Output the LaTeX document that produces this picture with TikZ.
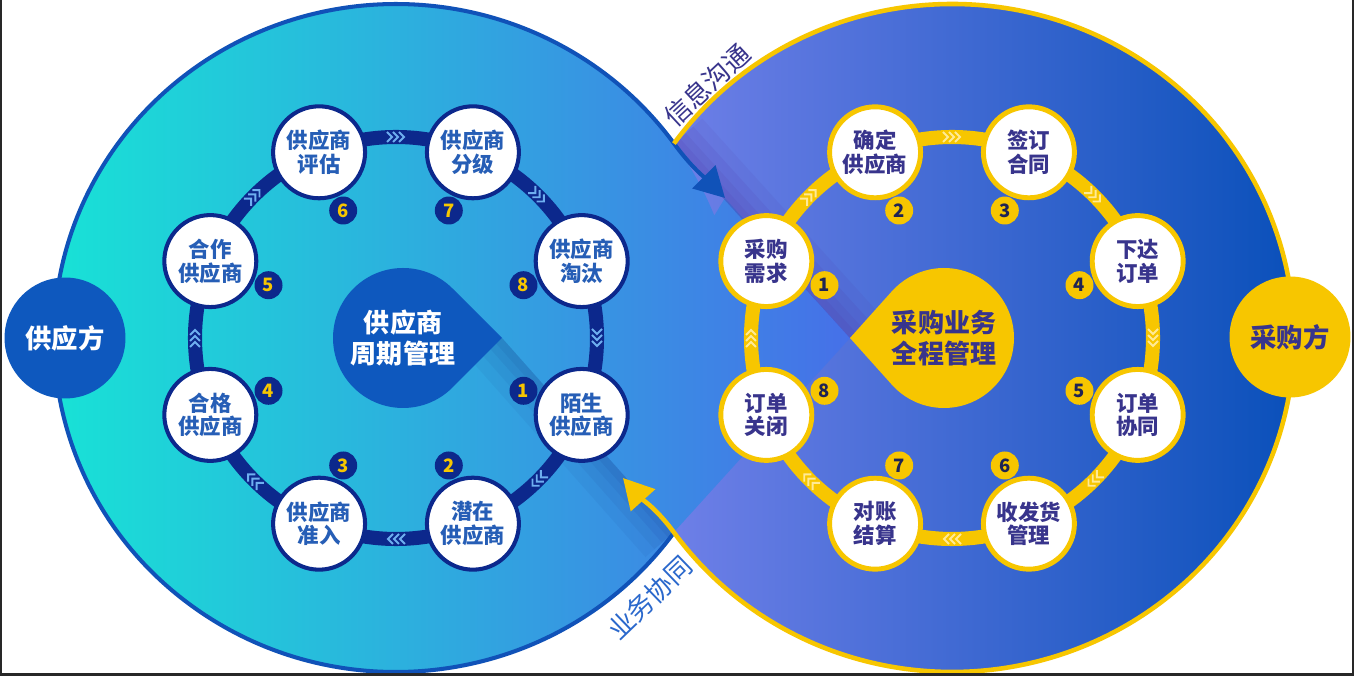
\documentclass[tikz,border=0pt]{standalone}
\usepackage{fontspec}
\setmainfont{Noto Sans CJK SC}
\usepackage{tikz}
\usetikzlibrary{arrows.meta}

\definecolor{cyanL}{RGB}{24,226,214}
\definecolor{midL}{RGB}{14,170,226}
\definecolor{blueL}{RGB}{70,112,232}
\definecolor{violetR}{RGB}{120,132,236}
\definecolor{midR}{RGB}{78,106,216}
\definecolor{deepR}{RGB}{10,80,186}
\definecolor{edgeblue}{RGB}{16,82,184}
\definecolor{gold}{RGB}{247,198,0}
\definecolor{ringnavy}{RGB}{12,40,140}
\definecolor{nodeblue}{RGB}{38,94,182}
\definecolor{indigo}{RGB}{56,52,140}
\definecolor{numnavy}{RGB}{30,36,84}
\definecolor{dropblue}{RGB}{14,88,190}
\definecolor{chevblue}{RGB}{110,175,240}
\definecolor{chevgold}{RGB}{255,234,150}
\definecolor{shadepurple}{RGB}{80,50,160}
\definecolor{shadenavy}{RGB}{15,40,120}
\definecolor{labelblue}{RGB}{42,104,204}
\definecolor{framegrey}{RGB}{40,40,40}

\begin{document}
\begin{tikzpicture}[x=0.02cm, y=0.02cm,
supnode/.style={
	circle,
	draw=ringnavy,
	line width=2.3pt,
	fill=white,
	minimum size=1.84cm,
	inner sep=0pt,
	align=center,
	text=nodeblue,
	font=\fontsize{12.2}{13.5}\selectfont\bfseries
},
purnode/.style={
	supnode,
	draw=gold,
	line width=2.8pt,
	minimum size=1.82cm,
	text=indigo
},
supnum/.style={
	circle,
	fill=ringnavy,
	minimum size=0.56cm,
	inner sep=0pt,
	text=gold,
	font=\fontsize{10.5}{11}\selectfont\bfseries
},
purnum/.style={
	supnum,
	fill=gold,
	text=numnavy
},
droptext/.style={
	align=center,
	font=\fontsize{14.8}{18}\selectfont\bfseries
},
sidebox/.style={
	circle,
	minimum size=2.42cm,
	inner sep=0pt,
	font=\fontsize{15}{16}\selectfont\bfseries
},
arclabel/.style={
	inner sep=0pt,
	font=\fontsize{15}{16}\selectfont
},
chevron/.style={line width=1.1pt},
lchev/.pic={\draw[chevron, chevblue] (-9,5) -- (-4,0) -- (-9,-5) (-3,5) -- (2,0) -- (-3,-5) (3,5) -- (8,0) -- (3,-5);},
rchev/.pic={\draw[chevron, chevgold] (-9,5) -- (-4,0) -- (-9,-5) (-3,5) -- (2,0) -- (-3,-5) (3,5) -- (8,0) -- (3,-5);}
]

\useasboundingbox (0,0) rectangle (1357,676);
\fill[white] (0,0) rectangle (1357,676);
\clip (0,0) rectangle (1357,676);

\coordinate (L) at (396,338);
\coordinate (R) at (952,338);
\coordinate (DL) at (403,338);
\coordinate (DR) at (944,338);
\coordinate (tipB) at (725,478);
\coordinate (tipY) at (623,198);

% the two lobes
\shade[left color=violetR, middle color=midR, right color=deepR]
(R) ellipse[x radius=342, y radius=334];
\shade[left color=cyanL, middle color=midL, right color=blueL]
(L) ellipse[x radius=342, y radius=334] (674,144) -- (850,338) -- (725,478) -- (640,338) -- cycle;

% fold shadows
\fill[shadepurple, opacity=.1] (674,532) -- (850,338) -- ++(41.9:8) -- ++(-176,194) -- cycle;
\fill[shadepurple, opacity=.1] (674,532) -- (850,338) -- ++(41.9:16) -- ++(-176,194) -- cycle;
\fill[shadepurple, opacity=.1] (674,532) -- (850,338) -- ++(41.9:26) -- ++(-176,194) -- cycle;
\fill[shadepurple, opacity=.08] (674,532) -- (850,338) -- ++(41.9:38) -- ++(-176,194) -- cycle;
\fill[shadenavy, opacity=.07] (674,144) -- (502,338) -- ++(221.3:8) -- ++(172,-194) -- cycle;
\fill[shadenavy, opacity=.07] (674,144) -- (502,338) -- ++(221.3:16) -- ++(172,-194) -- cycle;
\fill[shadenavy, opacity=.06] (674,144) -- (502,338) -- ++(221.3:26) -- ++(172,-194) -- cycle;
\fill[shadenavy, opacity=.05] (674,144) -- (502,338) -- ++(221.3:38) -- ++(172,-194) -- cycle;

% outlines and the two arrows
\draw[edgeblue, line width=2.3pt, -{Triangle[length=0.6cm, width=0.64cm]}]
([shift={(-35.6:342 and 334)}]L) arc[start angle=-35.6, end angle=-324.4, x radius=342, y radius=334]
to[out=-53.8, in=135] (tipB);
\draw[gold, line width=2.6pt, -{Triangle[length=0.6cm, width=0.64cm]}]
([shift={(144.4:342 and 334)}]R) arc[start angle=144.4, end angle=-144.4, x radius=342, y radius=334]
to[out=126.2, in=-48] (tipY);

% rings
\draw[ringnavy, line width=8pt] (L) circle[radius=201];
\draw[gold, line width=8pt] (R) circle[radius=201];

\pic[rotate=-90] at ([shift={(0:201)}]L) {lchev};
\pic[rotate=-45] at ([shift={(45:201)}]L) {lchev};
\pic[rotate=0] at ([shift={(90:201)}]L) {lchev};
\pic[rotate=45] at ([shift={(135:201)}]L) {lchev};
\pic[rotate=90] at ([shift={(180:201)}]L) {lchev};
\pic[rotate=135] at ([shift={(225:201)}]L) {lchev};
\pic[rotate=180] at ([shift={(270:201)}]L) {lchev};
\pic[rotate=225] at ([shift={(315:201)}]L) {lchev};

\pic[rotate=-90] at ([shift={(0:201)}]R) {rchev};
\pic[rotate=-45] at ([shift={(45:201)}]R) {rchev};
\pic[rotate=0] at ([shift={(90:201)}]R) {rchev};
\pic[rotate=45] at ([shift={(135:201)}]R) {rchev};
\pic[rotate=90] at ([shift={(180:201)}]R) {rchev};
\pic[rotate=135] at ([shift={(225:201)}]R) {rchev};
\pic[rotate=180] at ([shift={(270:201)}]R) {rchev};
\pic[rotate=225] at ([shift={(315:201)}]R) {rchev};

% centre drops
\fill[dropblue] ([shift={(45:70)}]DL) arc[start angle=45, end angle=315, radius=70] -- (502,338) -- cycle;
\fill[gold] ([shift={(-138.1:70)}]DR) arc[start angle=-138.1, end angle=138.1, radius=70] -- (850,338) -- cycle;
\node[droptext, text=white] (cl) at (DL) {供应商\\周期管理};
\node[droptext, text=indigo] (cr) at (DR) {采购业务\\全程管理};

% supplier cycle
\node[supnode] (s1) at ([shift={(-22.5:201)}]L) {陌生\\供应商};
\node[supnode] (s2) at ([shift={(-67.5:201)}]L) {潜在\\供应商};
\node[supnode] (s3) at ([shift={(-112.5:201)}]L) {供应商\\准入};
\node[supnode] (s4) at ([shift={(-157.5:201)}]L) {合格\\供应商};
\node[supnode] (s5) at ([shift={(157.5:201)}]L) {合作\\供应商};
\node[supnode] (s6) at ([shift={(112.5:201)}]L) {供应商\\评估};
\node[supnode] (s7) at ([shift={(67.5:201)}]L) {供应商\\分级};
\node[supnode] (s8) at ([shift={(22.5:201)}]L) {供应商\\淘汰};

\node[supnum] (n1) at ([shift={(-22.5:138)}]L) {1};
\node[supnum] (n2) at ([shift={(-67.5:138)}]L) {2};
\node[supnum] (n3) at ([shift={(-112.5:138)}]L) {3};
\node[supnum] (n4) at ([shift={(-157.5:138)}]L) {4};
\node[supnum] (n5) at ([shift={(157.5:138)}]L) {5};
\node[supnum] (n6) at ([shift={(112.5:138)}]L) {6};
\node[supnum] (n7) at ([shift={(67.5:138)}]L) {7};
\node[supnum] (n8) at ([shift={(22.5:138)}]L) {8};

% purchase cycle
\node[purnode] (p1) at ([shift={(157.5:201)}]R) {采购\\需求};
\node[purnode] (p2) at ([shift={(112.5:201)}]R) {确定\\供应商};
\node[purnode] (p3) at ([shift={(67.5:201)}]R) {签订\\合同};
\node[purnode] (p4) at ([shift={(22.5:201)}]R) {下达\\订单};
\node[purnode] (p5) at ([shift={(-22.5:201)}]R) {订单\\协同};
\node[purnode] (p6) at ([shift={(-67.5:201)}]R) {收发货\\管理};
\node[purnode] (p7) at ([shift={(-112.5:201)}]R) {对账\\结算};
\node[purnode] (p8) at ([shift={(-157.5:201)}]R) {订单\\关闭};

\node[purnum] (m1) at ([shift={(157.5:138)}]R) {1};
\node[purnum] (m2) at ([shift={(112.5:138)}]R) {2};
\node[purnum] (m3) at ([shift={(67.5:138)}]R) {3};
\node[purnum] (m4) at ([shift={(22.5:138)}]R) {4};
\node[purnum] (m5) at ([shift={(-22.5:138)}]R) {5};
\node[purnum] (m6) at ([shift={(-67.5:138)}]R) {6};
\node[purnum] (m7) at ([shift={(-112.5:138)}]R) {7};
\node[purnum] (m8) at ([shift={(-157.5:138)}]R) {8};

% the two parties
\node[sidebox, fill=dropblue, text=white] (gys) at (65,338) {供应方};
\node[sidebox, fill=gold, text=indigo] (cgf) at (1290,339) {采购方};

\node[arclabel, text=indigo, rotate=43] (xxgt) at (707,591) {信息沟通};
\node[arclabel, text=labelblue, rotate=44] (ywxt) at (650,78) {业务协同};

% screenshot frame
\draw[framegrey, line width=1.6pt] (1,676) -- (1,1.5) -- (1353,1.5) -- (1353,676);

\end{tikzpicture}
\end{document}
